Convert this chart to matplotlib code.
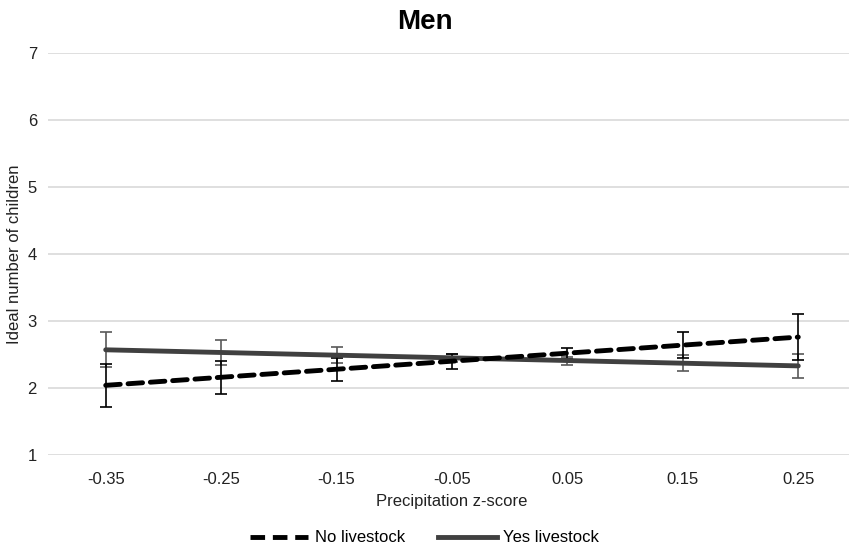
import matplotlib
matplotlib.use("Agg")
import matplotlib.pyplot as plt
from matplotlib.lines import Line2D

plt.rcParams['font.family'] = ['Liberation Sans', 'DejaVu Sans']

categories = ["-0.35", "-0.25", "-0.15", "-0.05", "0.05", "0.15", "0.25"]
no_livestock = [2.04, 2.16, 2.28, 2.40, 2.52, 2.64, 2.76]
no_livestock_err = [0.32, 0.25, 0.17, 0.11, 0.08, 0.19, 0.34]
yes_livestock = [2.57, 2.53, 2.49, 2.45, 2.41, 2.37, 2.33]
yes_livestock_err = [0.26, 0.18, 0.12, 0.06, 0.06, 0.12, 0.18]

fig = plt.figure(figsize=(8.49, 5.47), dpi=100)
ax = fig.add_axes([48/849, 1 - 455/547, (856 - 48)/849, (455 - 53)/547])

x = list(range(len(categories)))

ax.errorbar(x, yes_livestock, yerr=yes_livestock_err, fmt='none', ecolor='#595959',
            elinewidth=1.2, capsize=4, capthick=1.2, zorder=3)
ax.errorbar(x, no_livestock, yerr=no_livestock_err, fmt='none', ecolor='black',
            elinewidth=1.2, capsize=4, capthick=1.2, zorder=3)
ax.plot(x, yes_livestock, color='#404040', lw=3.5, solid_capstyle='round', zorder=4)
ax.plot(x, no_livestock, color='black', lw=3.5, linestyle=(0, (3, 1.6)),
        dash_capstyle='round', zorder=5)

ax.set_xlim(-0.5, 6.5)
ax.set_ylim(1, 7)
ax.set_yticks(range(1, 8))
ax.set_xticks(x)
ax.set_xticklabels(categories)
ax.grid(axis='y', color='#d9d9d9', lw=1.2)
ax.set_axisbelow(True)
for s in ax.spines.values():
    s.set_visible(False)
ax.tick_params(axis='both', length=0, labelsize=12, colors='#222222', pad=8)
ax.tick_params(axis='x', pad=12)

ax.set_xlabel("Precipitation z-score", fontsize=12, color='#222222', labelpad=5)
ax.set_ylabel("Ideal number of children", fontsize=12, color='#222222', labelpad=4)
fig.text(0.5, 1 - 22/547, "Men", ha='center', va='center', fontsize=20,
         fontweight='bold', color='black')

handles = [Line2D([], [], color='black', lw=3.5, linestyle=(0, (3, 1.6))),
           Line2D([], [], color='#404040', lw=3.5)]
fig.legend(handles, ["No livestock", "Yes livestock"], loc='center',
           bbox_to_anchor=(0.5, 1 - 538/547), ncol=2, frameon=False,
           fontsize=12, handlelength=3.5, columnspacing=2.0, handletextpad=0.4)

fig.savefig("out.png", dpi=100)
